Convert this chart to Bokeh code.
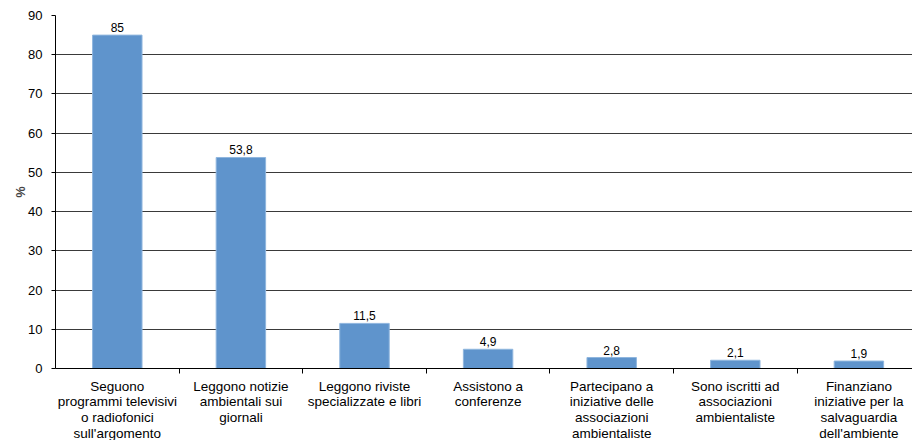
from bokeh.plotting import figure
from bokeh.models import Range1d, FixedTicker, ColumnDataSource
from bokeh.core.properties import value
from bokeh.embed import file_html
from bokeh.resources import INLINE

categories = [
    "Seguono\nprogrammi televisivi\no radiofonici\nsull'argomento",
    "Leggono notizie\nambientali sui\ngiornali",
    "Leggono riviste\nspecializzate e libri",
    "Assistono a\nconferenze",
    "Partecipano a\niniziative delle\nassociazioni\nambientaliste",
    "Sono iscritti ad\nassociazioni\nambientaliste",
    "Finanziano\niniziative per la\nsalvaguardia\ndell'ambiente",
]
values = [85, 53.8, 11.5, 4.9, 2.8, 2.1, 1.9]
value_labels = ["85", "53,8", "11,5", "4,9", "2,8", "2,1", "1,9"]
y_ticks = [0, 10, 20, 30, 40, 50, 60, 70, 80, 90]
y_title = "%"

FONT = "Liberation Sans"
centers = [i + 0.5 for i in range(len(categories))]

src = ColumnDataSource(dict(x=centers, top=values, lab=value_labels))

p = figure(frame_width=857, frame_height=353, output_backend="svg", toolbar_location=None,
           x_range=Range1d(0, 857 / 123.6), y_range=Range1d(0, 90),
           min_border_left=55, min_border_right=0, min_border_top=15, min_border_bottom=72)
p.outline_line_color = None
p.background_fill_color = "white"
p.border_fill_color = "white"

p.vbar(x="x", top="top", width=0.4, bottom=0, source=src,
       fill_color="#5f94cc", line_color="#8fb6de", line_width=1)
p.text(x="x", y="top", text="lab", source=src, text_align="center",
       text_baseline="bottom", y_offset=-3, text_font=value(FONT),
       text_font_size="12px", text_color="black")

# x axis
xa = p.xaxis[0]
xa.ticker = FixedTicker(ticks=centers, minor_ticks=list(range(1, len(categories))))
xa.major_label_overrides = {c: lab for c, lab in zip(centers, categories)}
xa.major_tick_out = 0
xa.major_tick_in = 0
xa.minor_tick_out = 5
xa.minor_tick_in = 0
xa.minor_tick_line_color = "black"
xa.axis_line_color = "black"
xa.major_label_standoff = 5
xa.major_label_text_font = FONT
xa.major_label_text_font_size = "13.5px"
xa.major_label_text_color = "black"
xa.major_label_text_align = "center"
xa.major_label_text_line_height = 1.06

# y axis
ya = p.yaxis[0]
ya.ticker = FixedTicker(ticks=y_ticks)
ya.major_tick_out = 4
ya.major_tick_in = 0
ya.minor_tick_out = 0
ya.minor_tick_in = 0
ya.major_tick_line_color = "black"
ya.axis_line_color = "black"
ya.major_label_standoff = 9
ya.major_label_text_font = FONT
ya.major_label_text_font_size = "13px"
ya.major_label_text_color = "black"
ya.axis_label = y_title
ya.axis_label_text_font = FONT
ya.axis_label_text_font_style = "bold"
ya.axis_label_text_font_size = "12.5px"
ya.axis_label_standoff = -3

p.xgrid.visible = False
p.ygrid.ticker = FixedTicker(ticks=y_ticks)
p.ygrid.grid_line_color = "#3a3a3a"
p.ygrid.grid_line_width = 1

open("out.html", "w").write(file_html(p, INLINE))
